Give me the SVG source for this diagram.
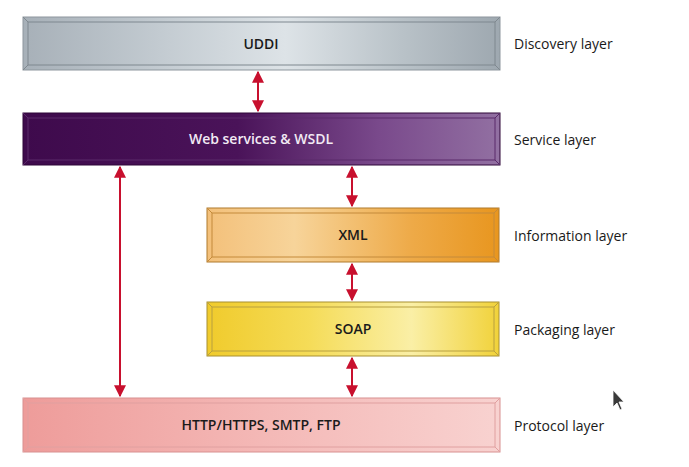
<svg xmlns="http://www.w3.org/2000/svg" width="689" height="467" viewBox="0 0 689 467">
<style>
  .lbl{font-family:"Open Sans","Noto Sans",sans-serif;font-size:14px;fill:#1a1a1a;}
  .box{font-family:"Open Sans","Noto Sans",sans-serif;font-size:14px;font-weight:600;text-anchor:middle;}
  .bev{fill:none;stroke-width:1;}
  .conn line{stroke:#c8102e;stroke-width:2;}
</style>
<defs>
  <linearGradient id="gUddi" x1="0" y1="0" x2="1" y2="0">
    <stop offset="0" stop-color="#a7b0b8"/>
    <stop offset="0.3" stop-color="#c4ccd2"/>
    <stop offset="0.55" stop-color="#dde3e7"/>
    <stop offset="0.8" stop-color="#b8c1c7"/>
    <stop offset="1" stop-color="#9ea8b0"/>
  </linearGradient>
  <linearGradient id="gWeb" x1="0" y1="0" x2="1" y2="0">
    <stop offset="0" stop-color="#3e0a4c"/>
    <stop offset="0.45" stop-color="#4a1359"/>
    <stop offset="0.75" stop-color="#7a4a8c"/>
    <stop offset="1" stop-color="#9270a2"/>
  </linearGradient>
  <linearGradient id="gXml" x1="0" y1="0" x2="1" y2="0">
    <stop offset="0" stop-color="#f3c07a"/>
    <stop offset="0.3" stop-color="#f7d49a"/>
    <stop offset="0.7" stop-color="#eeaa48"/>
    <stop offset="1" stop-color="#e8961f"/>
  </linearGradient>
  <linearGradient id="gSoap" x1="0" y1="0" x2="1" y2="0">
    <stop offset="0" stop-color="#f0cb2c"/>
    <stop offset="0.35" stop-color="#f5dc58"/>
    <stop offset="0.7" stop-color="#faefa6"/>
    <stop offset="1" stop-color="#f1d23a"/>
  </linearGradient>
  <linearGradient id="gProt" x1="0" y1="0" x2="1" y2="0">
    <stop offset="0" stop-color="#ee9c9a"/>
    <stop offset="0.5" stop-color="#f4b8b6"/>
    <stop offset="1" stop-color="#f8d2d0"/>
  </linearGradient>
  <marker id="ah" viewBox="0 0 10 10" refX="9" refY="5" markerWidth="6" markerHeight="6" orient="auto-start-reverse" markerUnits="strokeWidth">
    <path d="M0,0 L10,5 L0,10 z" fill="#c8102e"/>
  </marker>
</defs>

<g id="uddi">
  <rect x="23" y="17" width="477" height="53" fill="url(#gUddi)" stroke="#8d969d"/>
  <rect x="28" y="22" width="467" height="43" class="bev" stroke="#7f888f"/>
  <path d="M23,17 L28,22 M500,17 L495,22 M23,70 L28,65 M500,70 L495,65" class="bev" stroke="#7f888f"/>
  <text x="261" y="49" class="box" fill="#1a1a1a">UDDI</text>
</g>
<g id="web">
  <rect x="23" y="113" width="477" height="52" fill="url(#gWeb)" stroke="#2e0638"/>
  <rect x="28" y="118" width="467" height="42" class="bev" stroke="#5a2a6a"/>
  <path d="M23,113 L28,118 M500,113 L495,118 M23,165 L28,160 M500,165 L495,160" class="bev" stroke="#5a2a6a"/>
  <text x="261" y="144" class="box" fill="#f2eaf4">Web services &amp; WSDL</text>
</g>
<g id="xml">
  <rect x="207" y="208" width="292" height="54" fill="url(#gXml)" stroke="#b07a2c"/>
  <rect x="212" y="213" width="282" height="44" class="bev" stroke="#c48a3a"/>
  <path d="M207,208 L212,213 M499,208 L494,213 M207,262 L212,257 M499,262 L494,257" class="bev" stroke="#c48a3a"/>
  <text x="353" y="240" class="box" fill="#1a1a1a">XML</text>
</g>
<g id="soap">
  <rect x="207" y="302" width="292" height="54" fill="url(#gSoap)" stroke="#a89030"/>
  <rect x="212" y="307" width="282" height="44" class="bev" stroke="#b8a040"/>
  <path d="M207,302 L212,307 M499,302 L494,307 M207,356 L212,351 M499,356 L494,351" class="bev" stroke="#b8a040"/>
  <text x="353" y="334" class="box" fill="#1a1a1a">SOAP</text>
</g>
<g id="protocol">
  <rect x="23" y="398" width="477" height="54" fill="url(#gProt)" stroke="#d89090"/>
  <rect x="28" y="403" width="467" height="44" class="bev" stroke="#e0a0a0"/>
  <path d="M23,398 L28,403 M500,398 L495,403 M23,452 L28,447 M500,452 L495,447" class="bev" stroke="#e0a0a0"/>
  <text x="261" y="430" class="box" fill="#1a1a1a">HTTP/HTTPS, SMTP, FTP</text>
</g>

<g id="labels">
  <text x="514" y="49" class="lbl">Discovery layer</text>
  <text x="514" y="145" class="lbl">Service layer</text>
  <text x="514" y="241" class="lbl">Information layer</text>
  <text x="514" y="335" class="lbl">Packaging layer</text>
  <text x="514" y="431" class="lbl">Protocol layer</text>
</g>

<g class="conn" id="connectors">
  <line x1="258" y1="72" x2="258" y2="111" marker-start="url(#ah)" marker-end="url(#ah)"/>
  <line x1="120" y1="167" x2="120" y2="396" marker-start="url(#ah)" marker-end="url(#ah)"/>
  <line x1="352" y1="167" x2="352" y2="206" marker-start="url(#ah)" marker-end="url(#ah)"/>
  <line x1="352" y1="264" x2="352" y2="300" marker-start="url(#ah)" marker-end="url(#ah)"/>
  <line x1="352" y1="358" x2="352" y2="396" marker-start="url(#ah)" marker-end="url(#ah)"/>
</g>

<path d="M613,390 L613,407 L617,403 L620,410 L622,409 L619,402 L624,402 Z" fill="#3a3a3a" stroke="#ffffff" stroke-width="0.8"/>
</svg>
